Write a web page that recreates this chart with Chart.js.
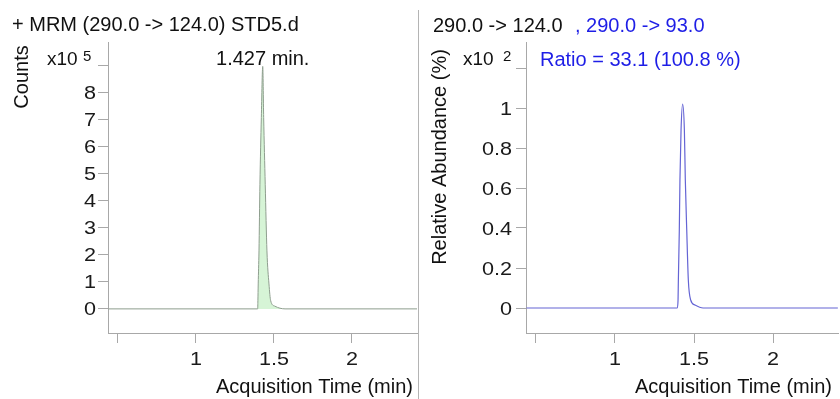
<!DOCTYPE html>
<html><head><meta charset="utf-8">
<script src="https://cdn.jsdelivr.net/npm/chart.js@4/dist/chart.umd.min.js"></script>
<style>
html,body{margin:0;padding:0;background:#fff;width:840px;height:399px;overflow:hidden;}
#c1{position:absolute;left:0;top:0;}
#c2{position:absolute;left:420px;top:0;}
#sep{position:absolute;left:418px;top:10px;width:1px;height:389px;background:#b4b4b4;}
</style></head><body>
<canvas id="c1" width="418" height="399"></canvas>
<div id="sep"></div>
<canvas id="c2" width="420" height="399"></canvas>
<script>
// ---- data ----
const leftTimes  = [0.44, 1.3955, 1.397, 1.399, 1.404, 1.410, 1.419, 1.428, 1.434, 1.444, 1.455, 1.468, 1.479, 1.506, 1.571, 2.42];
const leftCounts = [0,    0,      0.3,   0.92,  2.14,  4.6,   7.06,  8.95,  7.06,  4.6,   2.14,  0.92,  0.3,   0.1,   0,     0];   // x10^5
const rightTimes     = [0.44, 1.394, 1.399, 1.401, 1.407, 1.411, 1.418, 1.428, 1.439, 1.445, 1.454, 1.464, 1.479, 1.506, 1.557, 2.41];
const rightAbundance = [0,    0,     0.04,  0.14,  0.39,  0.64,  0.89,  1.02,  0.89,  0.64,  0.39,  0.14,  0.04,  0.015, 0,     0];   // x10^2 %
const xTickValues = [0.5, 1, 1.5, 2];
const xTickLabels = ['', '1', '1.5', '2'];
const leftYTickValues = [0, 1, 2, 3, 4, 5, 6, 7, 8, 9];
const leftYTickLabels = ['0', '1', '2', '3', '4', '5', '6', '7', '8', ''];
const rightYTickValues = [0, 0.2, 0.4, 0.6, 0.8, 1, 1.2];
const rightYTickLabels = ['0', '0.2', '0.4', '0.6', '0.8', '1', ''];
const leftTitle = '+ MRM (290.0 -> 124.0) STD5.d';
const rightTitleBlack = '290.0 -> 124.0';
const rightTitleBlue = ', 290.0 -> 93.0';
const peakLabel = '1.427 min.';
const ratioLabel = 'Ratio = 33.1 (100.8 %)';
const xTitle = 'Acquisition Time (min)';

// ---- styles ----
const FONT = '"Liberation Sans", Arial, sans-serif';
const AXIS = '#a8a8a8';
const BLUE = '#1e1ee6';

function tickLabelPlugin(xVals, xLabs, yVals, yLabs, yLabelRight) {
  return {
    id: 'tickLabels',
    afterDraw(chart) {
      const ctx = chart.ctx;
      const xs = chart.scales.x, ys = chart.scales.y;
      ctx.save();
      ctx.fillStyle = '#1a1a1a';
      ctx.font = '18px ' + FONT;
      ctx.textBaseline = 'alphabetic';
      xVals.forEach((v, i) => {
        const px = xs.getPixelForValue(v);
        ctx.save(); ctx.translate(px, 365); ctx.scale(1.2, 1);
        ctx.textAlign = 'center'; ctx.fillText(xLabs[i], 0, 0); ctx.restore();
      });
      yVals.forEach((v, i) => {
        const py = ys.getPixelForValue(v);
        ctx.save(); ctx.translate(yLabelRight, py + 6.5); ctx.scale(1.2, 1);
        ctx.textAlign = 'right'; ctx.fillText(yLabs[i], 0, 0); ctx.restore();
      });
      ctx.restore();
    }
  };
}

function baseOptions(xmin, xmax, ymin, ymax, xVals, yVals, yWidth, padRight) {
  const gridOpts = {drawOnChartArea: false, drawTicks: true, tickLength: 10, color: AXIS, lineWidth: 1};
  return {
    responsive: false, animation: false, devicePixelRatio: 1,
    layout: {padding: {top: 42, right: padRight, left: 0, bottom: 0}},
    plugins: {legend: {display: false}, tooltip: {enabled: false}},
    elements: {point: {radius: 0}},
    scales: {
      x: {
        type: 'linear', min: xmin, max: xmax,
        afterBuildTicks: s => { s.ticks = xVals.map(v => ({value: v})); },
        afterFit: s => { s.height = 66; },
        grid: gridOpts, border: {display: true, color: AXIS, width: 1},
        ticks: {color: 'rgba(0,0,0,0)', font: {size: 17}}
      },
      y: {
        type: 'linear', min: ymin, max: ymax,
        afterBuildTicks: s => { s.ticks = yVals.map(v => ({value: v})); },
        afterFit: s => { s.width = yWidth; },
        grid: gridOpts, border: {display: true, color: AXIS, width: 1},
        ticks: {color: 'rgba(0,0,0,0)', font: {size: 17}}
      }
    }
  };
}

// ---- left chart ----
const leftPeakIdx = leftCounts.indexOf(Math.max(...leftCounts));
new Chart(document.getElementById('c1'), {
  type: 'line',
  data: {datasets: [{
    data: leftTimes.map((t, i) => ({x: t, y: leftCounts[i]})),
    borderColor: '#8e9e8e', borderWidth: 1, fill: 'origin', backgroundColor: '#d6f4d6',
    cubicInterpolationMode: 'monotone', pointRadius: 0
  }]},
  options: baseOptions(0.436, 2.417, -0.89, 9.85, xTickValues, leftYTickValues, 108, 1),
  plugins: [tickLabelPlugin(xTickValues, xTickLabels, leftYTickValues, leftYTickLabels, 96), {
    id: 'leftText',
    afterDraw(chart) {
      const ctx = chart.ctx;
      ctx.save();
      ctx.fillStyle = '#111';
      ctx.textBaseline = 'alphabetic';
      ctx.font = '20px ' + FONT;
      ctx.textAlign = 'left';
      ctx.fillText(leftTitle, 12, 31);
      ctx.font = '19px ' + FONT;
      ctx.fillText('x10', 47, 65);
      ctx.font = '15px ' + FONT;
      ctx.fillText('5', 83, 61);
      ctx.font = '20px ' + FONT;
      ctx.textAlign = 'center';
      ctx.fillText(peakLabel, chart.scales.x.getPixelForValue(leftTimes[leftPeakIdx]), 65);
      ctx.textAlign = 'right';
      ctx.fillText(xTitle, 413, 393);
      ctx.save(); ctx.translate(22, 77); ctx.rotate(-Math.PI / 2);
      ctx.textAlign = 'center'; ctx.textBaseline = 'middle';
      ctx.fillText('Counts', 0, 0); ctx.restore();
      ctx.restore();
    }
  }]
});

// ---- right chart ----
new Chart(document.getElementById('c2'), {
  type: 'line',
  data: {datasets: [{
    data: rightTimes.map((t, i) => ({x: t, y: rightAbundance[i]})),
    borderColor: '#6464d4', borderWidth: 1.2, fill: false,
    cubicInterpolationMode: 'monotone', pointRadius: 0
  }]},
  options: baseOptions(0.437, 2.411, -0.125, 1.33, xTickValues, rightYTickValues, 106, 2),
  plugins: [tickLabelPlugin(xTickValues, xTickLabels, rightYTickValues, rightYTickLabels, 92), {
    id: 'rightText',
    afterDraw(chart) {
      const ctx = chart.ctx;
      ctx.save();
      ctx.fillStyle = '#111';
      ctx.textBaseline = 'alphabetic';
      ctx.font = '20px ' + FONT;
      ctx.textAlign = 'left';
      ctx.fillText(rightTitleBlack, 13, 32);
      ctx.fillStyle = BLUE;
      ctx.fillText(rightTitleBlue, 155, 32);
      ctx.fillText(ratioLabel, 120, 66);
      ctx.fillStyle = '#111';
      ctx.font = '19px ' + FONT;
      ctx.fillText('x10', 43, 65);
      ctx.font = '15px ' + FONT;
      ctx.fillText('2', 83, 61);
      ctx.font = '20px ' + FONT;
      ctx.textAlign = 'right';
      ctx.fillText(xTitle, 412, 393);
      ctx.save(); ctx.translate(20, 157); ctx.rotate(-Math.PI / 2);
      ctx.textAlign = 'center'; ctx.textBaseline = 'middle';
      ctx.fillText('Relative Abundance (%)', 0, 0); ctx.restore();
      ctx.restore();
    }
  }]
});
</script>
</body></html>
